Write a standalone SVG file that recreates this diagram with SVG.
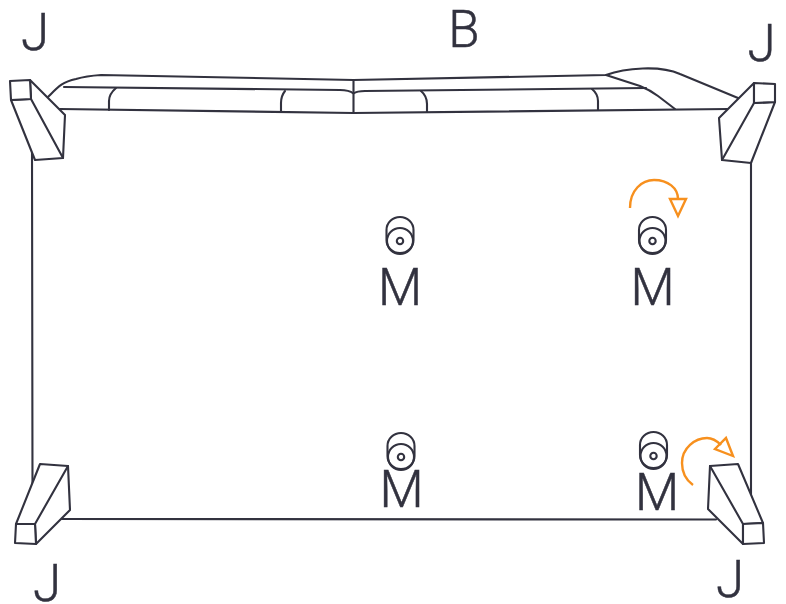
<svg xmlns="http://www.w3.org/2000/svg" width="786" height="604" viewBox="0 0 786 604">
<style>
.l{fill:none;stroke:#32323f;stroke-width:2.1;stroke-linejoin:round;stroke-linecap:round}
.w{fill:#fff;stroke:#32323f;stroke-width:2.1;stroke-linejoin:round;stroke-linecap:round}
.o{fill:none;stroke:#f7901e;stroke-width:2.4;stroke-linejoin:miter;stroke-linecap:butt}
.t{font-family:"Roboto","Liberation Sans",sans-serif;font-weight:300;font-size:51px;fill:#32323f;stroke:#32323f;stroke-width:.5;text-anchor:middle}
</style>
<defs>
<g id="bolt">
<rect class="l" x="-13.500" y="-19" width="27" height="36" rx="13.500" ry="13"/>
<circle class="l" cx="0" cy="5" r="13"/>
<circle class="l" cx="0" cy="5" r="3.200"/>
</g>
</defs>
<g id="frame">
<path class="l" d="M32 150L32.500 490M62 519L716 519.500M751 160L751 497"/>
<path class="l" d="M48 97C58 87 62 82 76 79Q86 76 101 75L353.500 80L606 75C625 68 660 65 680 74L738 98"/>
<path class="l" d="M64 87L340 90Q349 90 353.500 93.500Q357 91 365 91L646 88"/>
<path class="l" d="M606 75L640 86Q650 90 658 96L675 109"/>
<path class="l" d="M60 109L353.500 113L728 109M353.500 80L353.500 113"/>
<path class="l" d="M116 88Q109 94 109 101L109 110M285 91Q281 96 281 103L281 112M421 91Q427 96 427 104L427 112M592 89Q598 94 598 101L598 110"/>
</g>
<g id="corner-tl">
<path class="w" d="M30 80L65 115L63 158L35 160L11 100L31 99Z"/>
<path class="w" d="M10 81L30 80L31 99L11 100Z"/>
<path class="l" d="M31 99L63 158"/>
<text class="t" x="35" y="50">J</text>
</g>
<g id="corner-tr">
<path class="w" d="M754 83L719 118L722 160L751 163L775 102L754 103Z"/>
<path class="w" d="M754 83L775 84L775 102L754 103Z"/>
<path class="l" d="M754 103L722 160"/>
<text class="t" x="761.500" y="61">J</text>
</g>
<g id="corner-bl">
<path class="w" d="M40 464L68 466L70 510L36 544L35 524L16 524Z"/>
<path class="w" d="M16 524L35 524L36 544L15 543Z"/>
<path class="l" d="M68 466L35 524"/>
<text class="t" x="47" y="601">J</text>
</g>
<g id="corner-br">
<path class="w" d="M710 466L738 464L763 523L743 524L743 544L708 509Z"/>
<path class="w" d="M743 524L763 523L764 543L743 544Z"/>
<path class="l" d="M710 466L743 524"/>
<text class="t" x="730" y="597">J</text>
</g>
<g id="label-b"><text class="t" x="464" y="47">B</text></g>
<g id="m1"><use href="#bolt" x="400" y="236"/><text class="t" x="400" y="305">M</text></g>
<g id="m2"><use href="#bolt" x="652.500" y="236"/><text class="t" x="652.500" y="305">M</text></g>
<g id="m3"><use href="#bolt" x="401" y="452"/><text class="t" x="401.500" y="507">M</text></g>
<g id="m4"><use href="#bolt" x="653.500" y="451"/><text class="t" x="657" y="510">M</text></g>
<g id="connectors">
<path class="o" d="M630 208C630 190 642 180 654 180C668 180 678 188 678 199"/>
<path class="o" d="M670 199L686 199L678 216Z"/>
<path class="o" d="M693 485C686 480 682 472 682 463C682 448 695 438 707 438C712 438 717 441 721 445"/>
<path class="o" d="M726 438L733 456L715 449Z"/>
</g>
</svg>
